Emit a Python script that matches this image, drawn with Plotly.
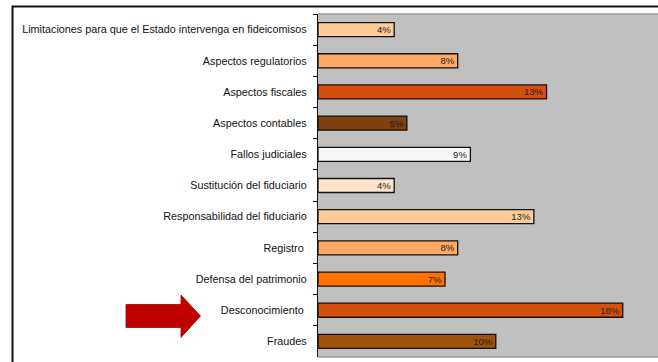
import plotly.graph_objects as go

# Survey: obstacles reported for fideicomisos (number of mentions per category)
categories = [
    "Limitaciones para que el Estado intervenga en fideicomisos",
    "Aspectos regulatorios",
    "Aspectos fiscales",
    "Aspectos contables",
    "Fallos judiciales",
    "Sustitución del fiduciario",
    "Responsabilidad del fiduciario",
    "Registro ",
    "Defensa del patrimonio",
    "Desconocimiento ",
    "Fraudes",
]
mentions = [6, 11, 18, 7, 12, 6, 17, 11, 10, 24, 14]
bar_colors = [
    "#FFCC99", "#FFA966", "#D5500C", "#7E400E", "#F8F8F8", "#FFE3CA",
    "#FFCC99", "#FFA966", "#FF7200", "#D5500C", "#9E5208",
]

total = sum(mentions)
shares = [m / total for m in mentions]

# page geometry (pixels)
W_PX, H_PX = 658, 362
L, T, R, B = 318, 14, 0, 5
PW, PH = W_PX - L - R, H_PX - T - B
PX_PER_UNIT = 1727.0  # horizontal pixels per 100 % of share


def px(x):
    return (x - L) / PW


def py(y):
    return (T + PH - y) / PH


fig = go.Figure(
    go.Bar(
        x=shares,
        y=categories,
        orientation="h",
        marker=dict(color=bar_colors, line=dict(color="#111111", width=1.3)),
        texttemplate="%{x:.0%}",
        textposition="inside",
        insidetextanchor="end",
        textangle=0,
        constraintext="none",
        textfont=dict(family="Liberation Sans, Arial", size=9.5, color="#222222"),
        hoverinfo="skip",
    )
)

# red arrow pointing at "Desconocimiento"
arrow = [(126, 304.5), (181, 304.5), (181, 295), (200.5, 316),
         (181, 337.5), (181, 327.5), (126, 327.5)]
path = "M " + " L ".join(f"{px(a):.4f},{py(b):.4f}" for a, b in arrow) + " Z"

fig.update_layout(
    width=W_PX,
    height=H_PX,
    margin=dict(l=L, r=R, t=T, b=B),
    paper_bgcolor="white",
    plot_bgcolor="#C0C0C0",
    bargap=0.55,
    showlegend=False,
    font=dict(family="Liberation Sans, Arial", size=10.8, color="#111111"),
    xaxis=dict(
        range=[0, PW / PX_PER_UNIT],
        showgrid=False,
        zeroline=False,
        showticklabels=False,
        ticks="",
        fixedrange=True,
    ),
    yaxis=dict(
        autorange="reversed",
        showgrid=False,
        showline=True,
        linecolor="#111111",
        linewidth=1.3,
        ticks="outside",
        ticklen=4,
        tickwidth=1.3,
        tickcolor="#111111",
        tickson="boundaries",
        ticklabelstandoff=8,
        tickfont=dict(size=10.8, color="#111111"),
        fixedrange=True,
    ),
    shapes=[
        # outer frame of the figure
        dict(type="rect", xref="paper", yref="paper",
             x0=px(12.5), x1=px(700), y0=py(6.5), y1=py(400),
             line=dict(color="#111111", width=2), layer="below"),
        # thin border of the plotting area
        dict(type="line", xref="paper", yref="paper",
             x0=0, x1=1, y0=1, y1=1, line=dict(color="#9A9A9A", width=1.5)),
        dict(type="line", xref="paper", yref="paper",
             x0=0, x1=1, y0=0, y1=0, line=dict(color="#9A9A9A", width=1.5)),
        dict(type="path", xref="paper", yref="paper", path=path,
             fillcolor="#C00000", line=dict(color="#A00000", width=0.8)),
    ],
)

fig.write_html("out.html")
